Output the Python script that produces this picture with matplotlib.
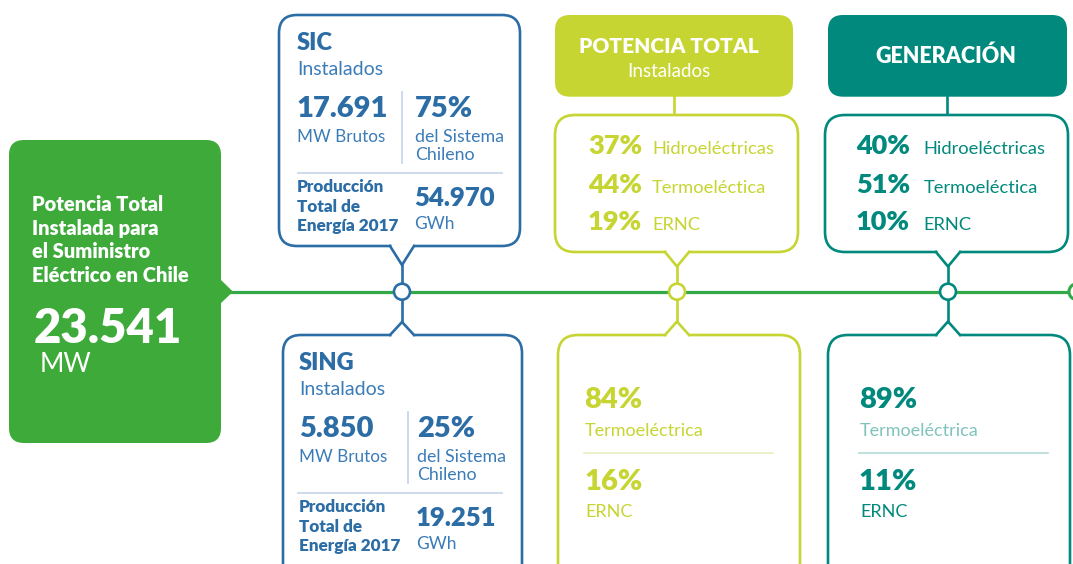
import matplotlib.pyplot as plt
from matplotlib.patches import FancyBboxPatch, Circle, Polygon

# datos
total_mw = '23.541'
titulo_total = ['Potencia Total', 'Instalada para', 'el Suministro', 'Eléctrico en Chile']
sistemas = ['SIC', 'SING']
mw_brutos = ['17.691', '5.850']
pct_sistema = [75, 25]
produccion_gwh = ['54.970', '19.251']
tipos = ['Hidroeléctricas', 'Termoeléctica', 'ERNC']
potencia_pct = [37, 44, 19]
generacion_pct = [40, 51, 10]
tipos_sing = ['Termoeléctrica', 'ERNC']
potencia_sing = [84, 16]
generacion_sing = [89, 11]

GREEN = '#3DAA3A'
LINE_GREEN = '#33A849'
BLUE = '#2C6DA6'
BLUE_L = '#3B7CB8'
BLUE_DIV = '#C3D3E8'
LIME = '#C6D531'
LIME_DIV = '#E8EFC0'
TEAL = '#00897C'
TEAL_L = '#7FC3BC'
TEAL_DIV = '#B5D9D5'
FONT = ['Lato', 'DejaVu Sans']

fig = plt.figure(figsize=(10.73, 5.64), dpi=100)
ax = fig.add_axes([0, 0, 1, 1])
ax.set_xlim(0, 1073)
ax.set_ylim(564, 0)
ax.axis('off')


def rbox(x0, y0, x1, y1, ec, fc='white', r=18, lw=1.9):
    p = FancyBboxPatch((x0, y0), x1 - x0, y1 - y0,
                       boxstyle=f'round,pad=0,rounding_size={r}',
                       ec=ec, fc=fc, lw=lw, zorder=2)
    ax.add_patch(p)


def pointer(cx, ybase, apex, color, half=12):
    ax.plot([cx - half + 1, cx + half - 1], [ybase, ybase], color='white', lw=3.5,
            zorder=3, solid_capstyle='butt')
    ax.plot([cx - half, cx, cx + half], [ybase, apex, ybase], color=color, lw=1.9,
            zorder=4, solid_joinstyle='miter')


def t(x, y, s, size, color, weight='normal', ha='left'):
    ax.text(x, y, s, fontsize=size, color=color, fontweight=weight, ha=ha,
            va='baseline', family=FONT, zorder=6)


# linea horizontal
LY = 291.7
ax.plot([225, 1073], [LY, LY], color=LINE_GREEN, lw=2.3, zorder=1)

# caja verde
rbox(9, 140, 221, 443, ec=GREEN, fc=GREEN, r=15, lw=0)
ax.add_patch(Polygon([(220, 279), (233, LY), (220, 304)], closed=True, fc=GREEN, ec='none', zorder=2))
for i, line in enumerate(titulo_total):
    t(32, 211 + i * 23.6, line, 14.5, 'white', 'heavy')
t(34, 343, total_mw, 34, 'white', 'heavy')
t(40, 372, 'MW', 19, 'white')

# SIC / SING
box_top = [(279, 15, 520, 246), (283, 335, 522, 600)]
for k in range(2):
    x0, y0, x1, y1 = box_top[k]
    rbox(x0, y0, x1, y1, ec=BLUE)
    if k == 0:
        pointer(402, y1, 265, BLUE)
        base = 0
    else:
        pointer(402, y0, 322, BLUE)
        base = 320
    lx = 297 if k == 0 else 299
    rx = 415 if k == 0 else 417
    dvx = 402 if k == 0 else 407.5
    t(lx, 50 + base, sistemas[k], 17, BLUE, 'heavy')
    t(lx, 75 + base, 'Instalados', 14, BLUE_L)
    t(lx, 117 + base, mw_brutos[k], 21, BLUE, 'heavy')
    t(lx, 141.5 + base, 'MW Brutos', 12.3, BLUE_L)
    t(rx, 117 + base, f'{pct_sistema[k]}%', 21, BLUE, 'heavy')
    t(rx, 141.5 + base, 'del Sistema', 12.8, BLUE_L)
    t(rx, 160.5 + base, 'Chileno', 12.8, BLUE_L)
    ax.plot([dvx, dvx], [92 + base, 163 + base], color=BLUE_DIV, lw=1.2, zorder=3)
    ax.plot([298, 502], [172.7 + base, 172.7 + base], color=BLUE_DIV, lw=1.2, zorder=3)
    for j, line in enumerate(['Producción', 'Total de', 'Energía 2017']):
        t(lx, 192.5 + base + j * 19.2, line, 12.3, BLUE, 'heavy')
    t(rx - 1, 206 + base, produccion_gwh[k], 18.5, BLUE, 'heavy')
    t(rx - 1, 229 + base, 'GWh', 12.5, BLUE_L)

# conector SIC/SING
ax.plot([402, 402], [265, 322], color=BLUE, lw=1.9, zorder=1)
ax.add_patch(Circle((402, LY), 8, fc='white', ec=BLUE, lw=1.9, zorder=5))

# columnas potencia total y generacion
cols = [
    dict(cx=677, hx0=555, hx1=793, hcx=674, bx0=555, bx1=798, sx0=558, sx1=800,
         col=LIME, light=LIME, div=LIME_DIV, pct=potencia_pct, sing=potencia_sing,
         right=642, lab=652, left=584),
    dict(cx=948, hx0=828, hx1=1067, hcx=946.5, bx0=825, bx1=1068, sx0=828, sx1=1070,
         col=TEAL, light=TEAL_L, div=TEAL_DIV, pct=generacion_pct, sing=generacion_sing,
         right=910, lab=923.5, left=859),
]
for c in cols:
    col = c['col']
    rbox(c['hx0'], 15, c['hx1'], 96.7, ec=col, fc=col, r=15, lw=0)
    ax.plot([c['hcx'], c['hcx']], [96, 116], color=col, lw=1.9, zorder=1)
    rbox(c['bx0'], 115, c['bx1'], 252, ec=col, r=20)
    pointer(c['cx'], 252, 266.5, col)
    rbox(c['sx0'], 335, c['sx1'], 600, ec=col, r=20)
    pointer(c['cx'], 335, 321.5, col)
    ax.plot([c['cx'], c['cx']], [266, 322], color=col, lw=1.9, zorder=1)
    ax.add_patch(Circle((c['cx'], LY), 8, fc='white', ec=col, lw=1.9, zorder=5))
    for i, (v, lab) in enumerate(zip(c['pct'], tipos)):
        y = [154, 193.3, 230.5][i]
        t(c['right'], y, f'{v}%', 19.5, col, 'heavy', ha='right')
        t(c['lab'], y, lab, 13.2, col)
    for i, (v, lab) in enumerate(zip(c['sing'], tipos_sing)):
        t(c['left'], 408.3 + i * 81.7, f'{v}%', 21, col, 'heavy')
        t(c['left'] + 1, 435.5 + i * 81.7, lab, 13, c['light'] if i == 0 else col)
    ax.plot([c['left'], c['left'] + 189], [453.3, 453.3], color=c['div'], lw=1.2, zorder=3)

# cabeceras
t(669, 53.3, 'POTENCIA TOTAL', 15, 'white', 'heavy', ha='center')
t(668.5, 76.7, 'Instalados', 13.5, 'white', ha='center')
t(946, 63.3, 'GENERACIÓN', 15.5, 'white', 'heavy', ha='center')

# circulo final
ax.add_patch(Circle((1077, LY), 8, fc='white', ec=LINE_GREEN, lw=2.2, zorder=5))

plt.savefig('out.png', dpi=100)
plt.close()
